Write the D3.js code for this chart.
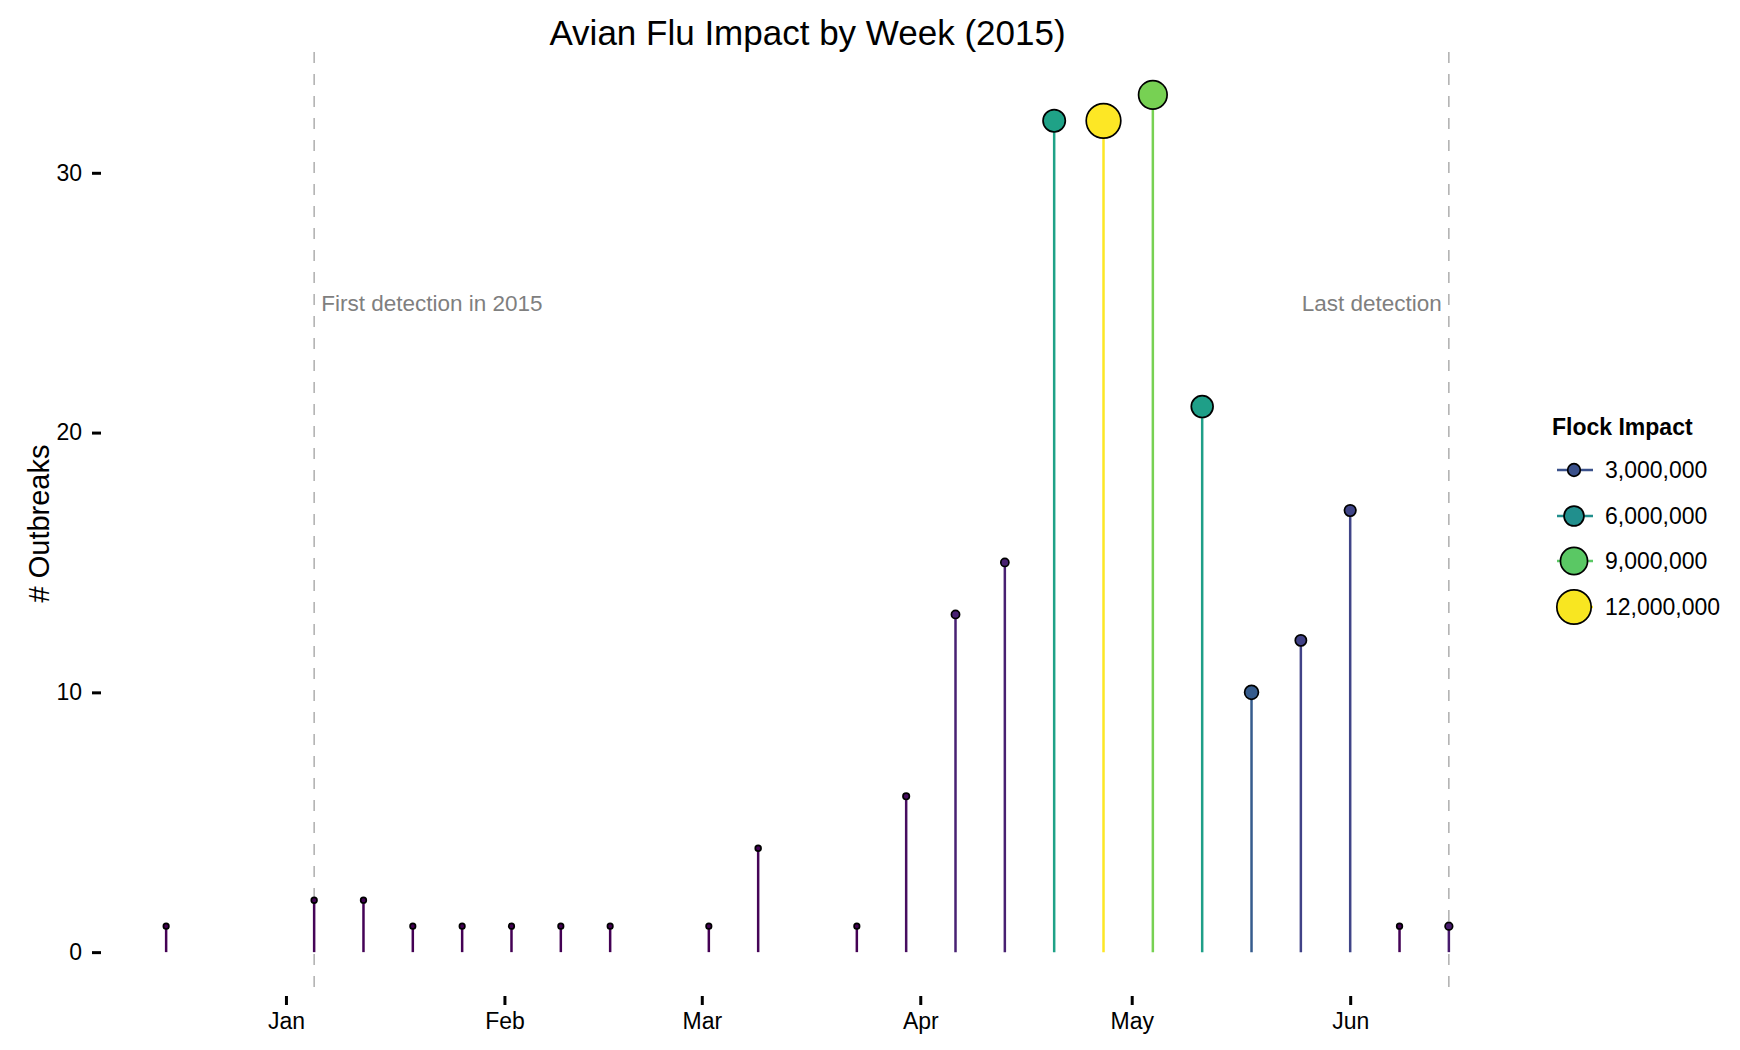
<!DOCTYPE html>
<html>
<head>
<meta charset="utf-8">
<script src="https://cdn.jsdelivr.net/npm/d3@7"></script>
<style>
  body { margin: 0; background: #fff; }
  text { font-family: "Liberation Sans", Arial, Helvetica, sans-serif; }
</style>
</head>
<body>
<div id="chart"></div>
<script>
// weekly data
const weeks = ["2014-12-15", "2015-01-05", "2015-01-12", "2015-01-19", "2015-01-26",
               "2015-02-02", "2015-02-09", "2015-02-16", "2015-03-02", "2015-03-09",
               "2015-03-23", "2015-03-30", "2015-04-06", "2015-04-13", "2015-04-20",
               "2015-04-27", "2015-05-04", "2015-05-11", "2015-05-18", "2015-05-25",
               "2015-06-01", "2015-06-08", "2015-06-15"];
const outbreaks = [1, 2, 2, 1, 1, 1, 1, 1, 1, 4, 1, 6, 13, 15, 32, 32, 33, 21, 10, 12, 17, 1, 1];
const flockImpact = [40000, 120000, 90000, 30000, 25000, 60000, 30000, 20000, 35000, 150000,
                     40000, 420000, 1150000, 1100000, 7000000, 12100000, 9600000, 6800000,
                     3500000, 2400000, 2500000, 100000, 900000];
const yTicks = [0, 10, 20, 30];
const legendValues = [3000000, 6000000, 9000000, 12000000];
const firstDetection = "2015-01-05";
const lastDetection = "2015-06-15";

const width = 1740, height = 1050;
const panel = { left: 102, right: 1513, top: 52, bottom: 995 };

const parseDate = d3.timeParse("%Y-%m-%d");
const data = weeks.map((w, i) => ({ date: parseDate(w), n: outbreaks[i], flock: flockImpact[i] }));

const svg = d3.select("#chart").append("svg")
    .attr("width", width)
    .attr("height", height);

// scales (5% padding like ggplot)
const dateExt = d3.extent(data, d => d.date);
const padDays = (dateExt[1] - dateExt[0]) * 0.05;
const x = d3.scaleTime()
    .domain([new Date(+dateExt[0] - padDays), new Date(+dateExt[1] + padDays)])
    .range([panel.left, panel.right]);

const yMax = d3.max(outbreaks);
const y = d3.scaleLinear()
    .domain([-yMax * 0.05, yMax * 1.05])
    .range([panel.bottom, panel.top]);

const flockExt = d3.extent(flockImpact);
const color = d3.scaleSequential(d3.interpolateViridis).domain(flockExt);
const radius = d3.scaleLinear().domain([0, flockExt[1]]).range([2.7, 17.3]);

// detection markers
const day = 24 * 3600 * 1000;
[firstDetection, lastDetection].forEach(d => {
  svg.append("line")
     .attr("x1", x(parseDate(d))).attr("x2", x(parseDate(d)))
     .attr("y1", panel.top).attr("y2", panel.bottom)
     .attr("stroke", "#a8a8a8")
     .attr("stroke-width", 1.4)
     .attr("stroke-dasharray", "11,11");
});

svg.append("text")
   .attr("x", x(new Date(+parseDate(firstDetection) + day)))
   .attr("y", y(25))
   .attr("dy", "0.35em")
   .style("font-size", "22.5px")
   .style("fill", "#7f7f7f")
   .text("First detection in 2015");

svg.append("text")
   .attr("x", x(new Date(+parseDate(lastDetection) - day)))
   .attr("y", y(25))
   .attr("dy", "0.35em")
   .attr("text-anchor", "end")
   .style("font-size", "22.5px")
   .style("fill", "#7f7f7f")
   .text("Last detection");

// lollipops
svg.append("g").selectAll("line")
   .data(data)
   .join("line")
   .attr("x1", d => x(d.date)).attr("x2", d => x(d.date))
   .attr("y1", y(0)).attr("y2", d => y(d.n))
   .attr("stroke", d => color(d.flock))
   .attr("stroke-width", 2.5);

svg.append("g").selectAll("circle")
   .data(data)
   .join("circle")
   .attr("cx", d => x(d.date))
   .attr("cy", d => y(d.n))
   .attr("r", d => radius(d.flock))
   .attr("fill", d => color(d.flock))
   .attr("stroke", "#000")
   .attr("stroke-width", 1.7);

// axes
const yAxis = svg.append("g")
    .attr("transform", `translate(${panel.left - 1}, 0)`)
    .call(d3.axisLeft(y).tickValues(yTicks).tickSize(9).tickPadding(10));
const xAxis = svg.append("g")
    .attr("transform", `translate(0, ${panel.bottom + 1})`)
    .call(d3.axisBottom(x).ticks(d3.timeMonth.every(1)).tickFormat(d3.timeFormat("%b"))
          .tickSize(9).tickPadding(8));
[yAxis, xAxis].forEach(a => {
  a.select(".domain").remove();
  a.selectAll(".tick line").attr("stroke", "#000").attr("stroke-width", 3);
  a.selectAll(".tick text")
   .style("font-size", "23px")
   .style("font-family", "'Liberation Sans', Arial, Helvetica, sans-serif")
   .attr("fill", "#000");
});

// titles
svg.append("text")
   .attr("x", (panel.left + panel.right) / 2)
   .attr("y", 45)
   .attr("text-anchor", "middle")
   .style("font-size", "35px")
   .text("Avian Flu Impact by Week (2015)");

svg.append("text")
   .attr("transform", `translate(39, ${(panel.top + panel.bottom) / 2}) rotate(-90)`)
   .attr("text-anchor", "middle")
   .attr("dy", "0.35em")
   .style("font-size", "29px")
   .text("# Outbreaks");

// legend
const legend = svg.append("g").attr("transform", "translate(1552, 0)");
legend.append("text")
   .attr("x", 0).attr("y", 435)
   .style("font-size", "23px")
   .style("font-weight", "bold")
   .text("Flock Impact");

const keyY = [470, 516, 561, 607];
const keys = legend.selectAll("g.key")
   .data(legendValues)
   .join("g")
   .attr("class", "key")
   .attr("transform", (d, i) => `translate(0, ${keyY[i]})`);
keys.append("line")
   .attr("x1", 5).attr("x2", 41)
   .attr("stroke", d => color(d))
   .attr("stroke-width", 2.5);
keys.append("circle")
   .attr("cx", 22)
   .attr("r", d => radius(d))
   .attr("fill", d => color(d))
   .attr("stroke", "#000")
   .attr("stroke-width", 1.7);
keys.append("text")
   .attr("x", 53)
   .attr("dy", "0.35em")
   .style("font-size", "23px")
   .text(d => d3.format(",")(d));
</script>
</body>
</html>
